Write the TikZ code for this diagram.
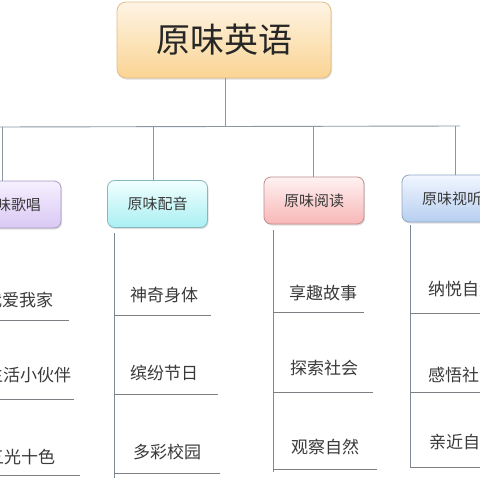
\documentclass[tikz,border=0pt]{standalone}
\usepackage{fontspec}
\setmainfont{Noto Sans CJK SC}
\usetikzlibrary{shadows}
\definecolor{linec}{HTML}{8A97A4}
\definecolor{subline}{HTML}{7C7F84}
\definecolor{txt}{HTML}{3A3A3A}
\definecolor{orT}{HTML}{FEF4E4}\definecolor{orB}{HTML}{FAD493}\definecolor{orD}{HTML}{E2BD86}
\definecolor{puT}{HTML}{F6F0FF}\definecolor{puB}{HTML}{D9C8F4}\definecolor{puD}{HTML}{A99AC0}
\definecolor{cyT}{HTML}{F2FFFF}\definecolor{cyB}{HTML}{A9EFF2}\definecolor{cyD}{HTML}{86B7BD}
\definecolor{piT}{HTML}{FFF2F2}\definecolor{piB}{HTML}{F8B6B6}\definecolor{piD}{HTML}{C08C8C}
\definecolor{blT}{HTML}{F1F6FF}\definecolor{blB}{HTML}{B7CFF0}\definecolor{blD}{HTML}{90A6C2}
\tikzset{
  catbox/.style n args={3}{draw=#3, line width=0.8pt, rounded corners=7pt,
    top color=#1, bottom color=#2, minimum width=100pt, minimum height=47pt,
    inner sep=0pt, font=\fontsize{15}{15}\selectfont, text=txt,
    drop shadow={opacity=0.25, shadow xshift=1pt, shadow yshift=-1.5pt}},
  titlebox/.style={draw=orD, line width=0.8pt, rounded corners=9pt,
    top color=orT, bottom color=orB, minimum width=214pt, minimum height=76pt,
    inner sep=0pt, font=\fontsize{34}{34}\selectfont, text=black!85,
    drop shadow={opacity=0.25, shadow xshift=1pt, shadow yshift=-1.5pt}},
  tree/.style={draw=linec, line width=0.9pt},
  colline/.style={draw=linec!90!black, line width=0.9pt},
  uline/.style={draw=subline, line width=0.8pt},
  item/.style={anchor=west, inner sep=0pt, font=\fontsize{17}{17}\selectfont, text=txt}
}
\begin{document}
\begin{tikzpicture}[x=1pt,y=-1pt]
\useasboundingbox (0,0) rectangle (480,480);
\clip (0,0) rectangle (480,480);
\fill[white] (0,0) rectangle (480,480);
% title
\node[titlebox] (title) at (224,40) {原味英语};
% bus
\coordinate (j) at (225,127);
\coordinate (busL) at (-5,127);
\coordinate (busR) at (460,126);
\draw[tree] (title.south -| j) -- (j);
\draw[tree] (busL) -- (busR);
% categories
\node[catbox={puT}{puB}{puD}] (c1) at (11,204.5) {原味歌唱};
\node[catbox={cyT}{cyB}{cyD}] (c2) at (157.5,204) {原味配音};
\node[catbox={piT}{piB}{piD}] (c3) at (314,200.5) {原味阅读};
\node[catbox={blT}{blB}{blD}] (c4) at (452,198.5) {原味视听};
\coordinate (b1) at (2,127); \coordinate (b2) at (153,127);
\coordinate (b3) at (313,127); \coordinate (b4) at (455,126);
\draw[tree] (b1) -- (b1 |- c1.north);
\draw[tree] (b2) -- (b2 |- c2.north);
\draw[tree] (b3) -- (b3 |- c3.north);
\draw[tree] (b4) -- (b4 |- c4.north);
% column verticals
\coordinate (v1t) at (-30,229); \coordinate (v1b) at (-30,478);
\coordinate (v2t) at (114,233); \coordinate (v2b) at (114,478);
\coordinate (v3t) at (273,230); \coordinate (v3b) at (273,472);
\coordinate (v4t) at (410,225); \coordinate (v4b) at (410,467);
\draw[colline] (v1t) -- (v1b);
\draw[colline] (v2t) -- (v2b);
\draw[colline] (v3t) -- (v3b);
\draw[colline] (v4t) -- (v4b);
% column 1 items
\node[item] (i11) at (-15,300) {我爱我家};
\node[item] (i12) at (-14,375) {生活小伙伴};
\node[item] (i13) at (-13,457) {五光十色};
\coordinate (e11) at (69,320); \coordinate (e12) at (74,399); \coordinate (e13) at (80,475);
\draw[uline] (v1t |- e11) -- (e11);
\draw[uline] (v1t |- e12) -- (e12);
\draw[uline] (v1t |- e13) -- (e13);
% column 2 items
\node[item] (i21) at (130,295) {神奇身体};
\node[item] (i22) at (130,373) {缤纷节日};
\node[item] (i23) at (133,452) {多彩校园};
\coordinate (e21) at (211,315); \coordinate (e22) at (218,394); \coordinate (e23) at (220,473);
\draw[uline] (v2t |- e21) -- (e21);
\draw[uline] (v2t |- e22) -- (e22);
\draw[uline] (v2t |- e23) -- (e23);
% column 3 items
\node[item] (i31) at (289,293) {享趣故事};
\node[item] (i32) at (290,368) {探索社会};
\node[item] (i33) at (291,447) {观察自然};
\coordinate (e31) at (364,312); \coordinate (e32) at (373,392); \coordinate (e33) at (377,469);
\draw[uline] (v3t |- e31) -- (e31);
\draw[uline] (v3t |- e32) -- (e32);
\draw[uline] (v3t |- e33) -- (e33);
% column 4 items
\node[item] (i41) at (428,289) {纳悦自然};
\node[item] (i42) at (428,375) {感悟社会};
\node[item] (i43) at (429,442) {亲近自然};
\coordinate (e41) at (490,313); \coordinate (e42) at (490,392); \coordinate (e43) at (490,467);
\draw[uline] (v4t |- e41) -- (e41);
\draw[uline] (v4t |- e42) -- (e42);
\draw[uline] (v4t |- e43) -- (e43);
\end{tikzpicture}
\end{document}
